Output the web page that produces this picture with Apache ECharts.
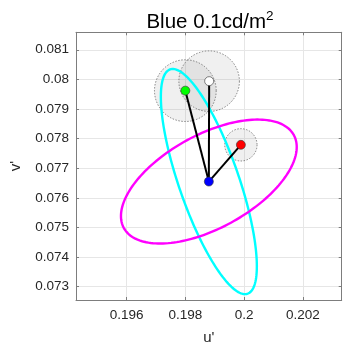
<!DOCTYPE html>
<html>
<head>
<meta charset="utf-8">
<script src="https://cdn.jsdelivr.net/npm/echarts@6/dist/echarts.min.js"></script>
<style>
html,body{margin:0;padding:0;background:#ffffff;}
#chart{width:351px;height:350px;}
</style>
</head>
<body>
<div id="chart"></div>
<script>
// Axis extents and tick positions (u', v' chromaticity)
const uRange = [0.19428, 0.20332];
const vRange = [0.07255, 0.08159];
const uTicks = [0.196, 0.198, 0.2, 0.202];
const vTicks = [0.073, 0.074, 0.075, 0.076, 0.077, 0.078, 0.079, 0.08, 0.081];

// Reference (blue) chromaticity
const refU = 0.19880;
const refV = 0.07655;

// Measured points linked to the reference
const pointU = [0.19881, 0.19800, 0.19989];
const pointV = [0.07994, 0.07962, 0.07779];
const pointColors = ['#ffffff', '#00ff00', '#ff0000'];
const pointRadius = [0.00103, 0.00105, 0.00055];

// Discrimination ellipses around the reference
const ellipseSemiMajor = [0.00401, 0.00329];
const ellipseSemiMinor = [0.00102, 0.00158];
const ellipseAngleDeg = [109.2, 28.4];
const ellipseColors = ['#00ffff', '#ff00ff'];

const FONT = 'Liberation Sans, Arial, Helvetica, sans-serif';
const TXT = '#262626';
const trim = v => String(+v.toFixed(4));

function axisCommon(ticks, showLabel, showGrid) {
  return {
    type: 'value',
    axisLine: { show: true, onZero: false, lineStyle: { color: '#7d7d7d', width: 1 } },
    axisTick: { show: true, inside: true, length: 3, customValues: ticks, lineStyle: { color: '#7d7d7d' } },
    axisLabel: { show: showLabel, customValues: ticks, formatter: trim, fontSize: 13.5, fontFamily: FONT, color: TXT },
    splitLine: { show: showGrid, lineStyle: { color: '#e6e6e6', width: 1 } }
  };
}

const xBottom = Object.assign(axisCommon(uTicks, true, true), {
  min: uRange[0], max: uRange[1], position: 'bottom',
  name: "u'", nameLocation: 'middle', nameGap: 30,
  nameTextStyle: { fontSize: 15, fontFamily: FONT, color: TXT }
});
xBottom.axisLabel.margin = 8;
const xTop = Object.assign(axisCommon(uTicks, false, false), {
  min: uRange[0], max: uRange[1], position: 'top'
});
const yLeft = Object.assign(axisCommon(vTicks, true, true), {
  min: vRange[0], max: vRange[1], position: 'left',
  name: "v'", nameLocation: 'middle', nameGap: 53,
  nameTextStyle: { fontSize: 15, fontFamily: FONT, color: TXT }
});
yLeft.axisLabel.margin = 7;
const yRight = Object.assign(axisCommon(vTicks, false, false), {
  min: vRange[0], max: vRange[1], position: 'right'
});

const series = [];

// Shaded uncertainty circles around each point
series.push({
  type: 'custom',
  xAxisIndex: 0, yAxisIndex: 0,
  data: pointU.map((u, i) => [u, pointV[i], pointRadius[i]]),
  renderItem: function (params, api) {
    const c = api.coord([api.value(0), api.value(1)]);
    const r = api.size([api.value(2), 0])[0];
    return {
      type: 'circle',
      shape: { cx: c[0], cy: c[1], r: r },
      style: { fill: 'rgba(128,128,128,0.12)', stroke: '#555555', lineWidth: 0.7, lineDash: [1.5, 1.5] }
    };
  },
  z: 1
});

// Ellipses
ellipseColors.forEach((col, k) => {
  series.push({
    type: 'custom',
    xAxisIndex: 0, yAxisIndex: 0,
    data: [[refU, refV, ellipseSemiMajor[k], ellipseSemiMinor[k], ellipseAngleDeg[k]]],
    renderItem: function (params, api) {
      const cu = api.value(0), cv = api.value(1);
      const a = api.value(2), b = api.value(3), th = api.value(4) * Math.PI / 180;
      const pts = [];
      for (let i = 0; i < 180; i++) {
        const t = i / 180 * 2 * Math.PI;
        const du = a * Math.cos(t) * Math.cos(th) - b * Math.sin(t) * Math.sin(th);
        const dv = a * Math.cos(t) * Math.sin(th) + b * Math.sin(t) * Math.cos(th);
        pts.push(api.coord([cu + du, cv + dv]));
      }
      return {
        type: 'polygon',
        shape: { points: pts },
        style: { fill: 'none', stroke: col, lineWidth: 2.4 }
      };
    },
    z: 2
  });
});

// Connecting lines from reference to each point
pointU.forEach((u, i) => {
  series.push({
    type: 'line',
    data: [[refU, refV], [u, pointV[i]]],
    symbol: 'none',
    lineStyle: { color: '#000000', width: 2 },
    silent: true,
    z: 3
  });
});

// Point markers
series.push({
  type: 'scatter',
  data: pointU.map((u, i) => ({ value: [u, pointV[i]], itemStyle: { color: pointColors[i] } })),
  symbolSize: 9,
  itemStyle: { borderColor: '#333333', borderWidth: 0.6, opacity: 1 },
  z: 4
});
series.push({
  type: 'scatter',
  data: [[refU, refV]],
  symbolSize: 9,
  itemStyle: { color: '#0000ff', borderColor: '#333333', borderWidth: 0.6, opacity: 1 },
  z: 4
});

const chart = echarts.init(document.getElementById('chart'), null, { renderer: 'canvas' });
chart.setOption({
  animation: false,
  backgroundColor: '#ffffff',
  title: {
    text: '{m|Blue 0.1cd/m}{s|2}',
    left: 205, top: 4, textAlign: 'center',
    textStyle: {
      fontWeight: 'normal',
      rich: {
        m: { fontSize: 20.5, fontFamily: FONT, fontWeight: 'normal', color: '#000000', lineHeight: 24, verticalAlign: 'bottom' },
        s: { fontSize: 13.5, fontFamily: FONT, fontWeight: 'normal', color: '#000000', lineHeight: 24, verticalAlign: 'top', padding: [0, 0, 8, 0] }
      }
    }
  },
  grid: { left: 70, right: 9.3, top: 32.3, bottom: 47.3, containLabel: false },
  xAxis: [xBottom, xTop],
  yAxis: [yLeft, yRight],
  series: series
});
</script>
</body>
</html>
